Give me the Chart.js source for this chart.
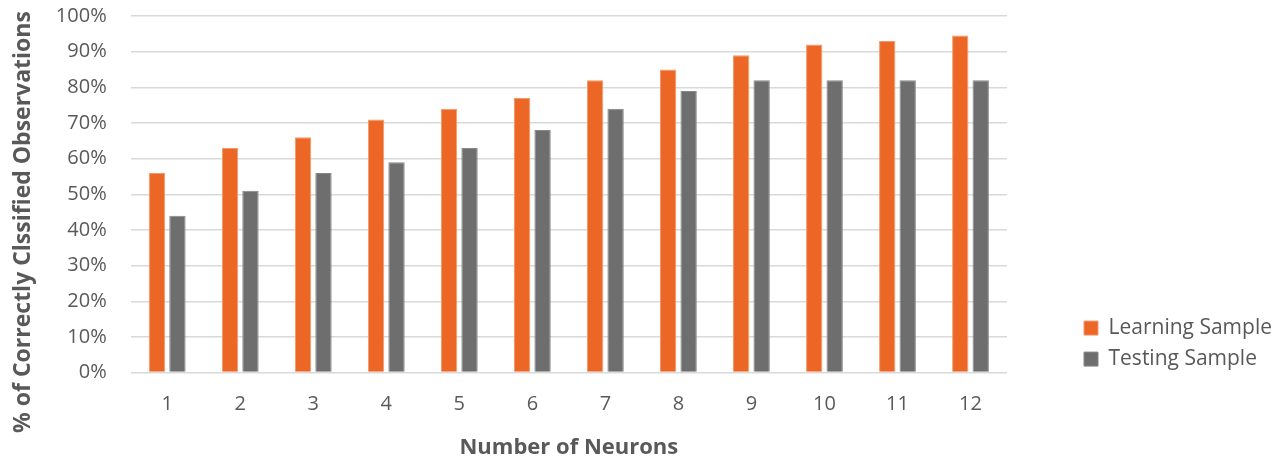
<!DOCTYPE html>
<html>
<head>
<meta charset="utf-8">
<script src="https://cdn.jsdelivr.net/npm/chart.js@4.4.1/dist/chart.umd.min.js"></script>
<style>
  html, body { margin: 0; padding: 0; background: #ffffff; }
  #wrap { position: relative; width: 1287px; height: 457px; }
</style>
</head>
<body>
<div id="wrap"><canvas id="c" width="1287" height="457"></canvas></div>
<script>
const categories = ['1', '2', '3', '4', '5', '6', '7', '8', '9', '10', '11', '12'];
const learningSample = [56, 63, 66, 71, 74, 77, 82, 85, 89, 92, 93, 94.5];
const testingSample = [44, 51, 56, 59, 63, 68, 74, 79, 82, 82, 82, 82];
const seriesNames = ['Learning Sample', 'Testing Sample'];
const yTitle = '% of Correctly Clssified Observations';
const xTitle = 'Number of Neurons';

const FONT = "'Open Sans', 'Noto Sans', sans-serif";
const TEXT = '#595959';

const yTitlePlugin = {
  id: 'yTitle',
  afterLayout(chart) {
    // nudge the legend block down to sit where the reference has it
    if (chart.legend) { chart.legend.top += 7; chart.legend.bottom += 7; }
  },
  afterDraw(chart) {
    const ctx = chart.ctx;
    ctx.save();
    ctx.translate(23, 222);
    ctx.rotate(-Math.PI / 2);
    ctx.font = "bold 23px " + FONT;
    ctx.fillStyle = TEXT;
    ctx.textAlign = 'center';
    ctx.textBaseline = 'middle';
    ctx.fillText(yTitle, 0, 0);
    ctx.restore();
  }
};

new Chart(document.getElementById('c'), {
  type: 'bar',
  data: {
    labels: categories,
    datasets: [
      {
        label: seriesNames[0],
        data: learningSample,
        backgroundColor: '#EC6726',
        borderColor: '#F3986C',
        borderWidth: 1,
        categoryPercentage: 0.56,
        barPercentage: 0.8
      },
      {
        label: seriesNames[1],
        data: testingSample,
        backgroundColor: '#6E6E6E',
        borderColor: '#878787',
        borderWidth: 1,
        categoryPercentage: 0.56,
        barPercentage: 0.8
      }
    ]
  },
  options: {
    responsive: false,
    animation: false,
    layout: { padding: { top: 16, right: 5, bottom: 0, left: 0 } },
    plugins: {
      legend: {
        position: 'right',
        align: 'end',
        fullSize: false,
        labels: {
          boxWidth: 14,
          boxHeight: 14,
          padding: 10,
          color: TEXT,
          font: { family: FONT, size: 21 }
        }
      },
      tooltip: { enabled: false }
    },
    scales: {
      x: {
        grid: { display: false, drawTicks: false },
        border: { display: false },
        ticks: {
          color: TEXT,
          padding: 20,
          font: { family: FONT, size: 20 }
        },
        title: {
          display: true,
          text: xTitle,
          color: TEXT,
          font: { family: FONT, size: 22, weight: 'bold' },
          padding: { top: -2, bottom: -4 }
        }
      },
      y: {
        min: 0,
        max: 100,
        grid: { color: '#D9D9D9', lineWidth: 1.5, drawTicks: false },
        border: { display: false },
        ticks: {
          stepSize: 10,
          color: TEXT,
          padding: 24,
          font: { family: FONT, size: 20 },
          callback: (v) => v + '%'
        },
        afterFit: (s) => { s.width = 130.7; s.paddingTop = 0; s.paddingBottom = 0; }
      },
      gap: {
        type: 'linear',
        position: 'right',
        display: true,
        grid: { display: false },
        border: { display: false },
        ticks: { display: false },
        afterFit: (s) => { s.width = 67; }
      }
    }
  },
  plugins: [yTitlePlugin]
});
</script>
</body>
</html>
